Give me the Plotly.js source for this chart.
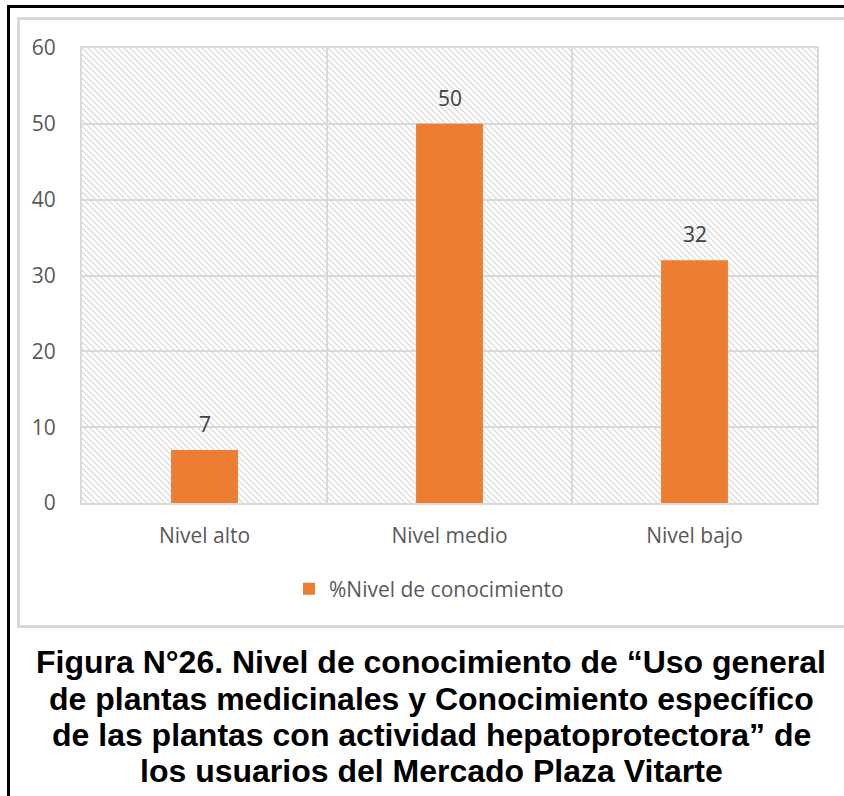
<!DOCTYPE html>
<html>
<head>
<meta charset="utf-8">
<script src="https://cdn.plot.ly/plotly-3.0.1.min.js"></script>
<style>
  html, body { margin: 0; padding: 0; background: #ffffff; }
  #wrap { position: relative; width: 844px; height: 796px; overflow: hidden; }
  #chart { position: absolute; left: 0; top: 0; width: 844px; height: 796px; }
  .frame { position: absolute; pointer-events: none; box-sizing: border-box; }
</style>
</head>
<body>
<div id="wrap">
  <div id="chart"></div>
  <div class="frame" style="left:7px; top:5px; width:900px; height:900px; border-top:3px solid #000; border-left:3px solid #000;"></div>
  <div class="frame" style="left:17px; top:17px; width:900px; height:611px; border:3px solid #d9d9d9;"></div>
</div>
<script>
// ---- data ----
const categories = ['Nivel alto', 'Nivel medio', 'Nivel bajo'];
const values = [7, 50, 32];
const seriesName = '%Nivel de conocimiento';
const yTickValues = [0, 10, 20, 30, 40, 50, 60];
const captionLines = [
  'Figura N°26. Nivel de conocimiento de “Uso general',
  'de plantas medicinales y Conocimiento específico',
  'de las plantas con actividad hepatoprotectora” de',
  'los usuarios del Mercado Plaza Vitarte'
];

// ---- styling ----
const barColor = '#ED7D31';
const gridColor = '#d9d9d9';
const tickColor = '#595959';
const labelColor = '#404040';
const baseFont = 'Open Sans, Lato, sans-serif';

// plot area geometry in pixels (for decorative hatch & caption placement)
const W = 844, H = 796;
const mL = 82, mR = 27, mT = 48, mB = 293;
const plotW = W - mL - mR, plotH = H - mT - mB;

// hatched background (decorative) as an SVG image
const hatchSvg =
  '<svg xmlns="http://www.w3.org/2000/svg" width="' + plotW + '" height="' + plotH + '">' +
  '<defs><pattern id="h" patternUnits="userSpaceOnUse" width="6" height="6">' +
  '<path d="M-1,-1 L7,7 M-1,5 L1,7 M5,-1 L7,1" stroke="#d4d4d4" stroke-width="1.1"/>' +
  '</pattern></defs>' +
  '<rect width="100%" height="100%" fill="#ffffff"/>' +
  '<rect width="100%" height="100%" fill="url(#h)"/></svg>';
const hatchUri = 'data:image/svg+xml;base64,' + btoa(hatchSvg);

const trace = {
  type: 'bar',
  x: categories,
  y: values,
  name: seriesName,
  marker: { color: barColor },
  showlegend: true,
  hoverinfo: 'none'
};

const valueLabels = categories.map((c, i) => ({
  x: c, y: values[i], xref: 'x', yref: 'y',
  text: String(values[i]), showarrow: false,
  yanchor: 'middle', yshift: 26,
  font: { family: baseFont, size: 21, color: labelColor }
}));

const captionY = [662, 699, 735, 771];
const captionCenterX = 431;
const captionAnns = captionLines.map((t, i) => ({
  xref: 'paper', yref: 'paper', x: 0.5, y: 0,
  xanchor: 'center', yanchor: 'middle',
  xshift: captionCenterX - (mL + plotW / 2),
  yshift: -(captionY[i] - (mT + plotH)),
  text: '<b>' + t + '</b>', showarrow: false,
  font: { family: 'Liberation Sans, Arial, sans-serif', size: 32, color: '#000000' }
}));

const layout = {
  width: W, height: H,
  margin: { l: mL, r: mR, t: mT, b: mB, pad: 0 },
  paper_bgcolor: 'rgba(0,0,0,0)',
  plot_bgcolor: 'rgba(0,0,0,0)',
  bargap: 0.727,
  font: { family: baseFont, size: 21, color: tickColor },
  xaxis: {
    type: 'category',
    range: [-0.5, categories.length - 0.5],
    tickson: 'boundaries',
    showgrid: true, gridcolor: gridColor, gridwidth: 2,
    showline: true, linecolor: gridColor, linewidth: 2, mirror: true,
    ticks: 'outside', ticklen: 20, tickcolor: 'rgba(0,0,0,0)',
    ticklabelstandoff: 13,
    tickfont: { family: baseFont, size: 21, color: tickColor },
    fixedrange: true
  },
  yaxis: {
    range: [0, 60],
    tickmode: 'array', tickvals: yTickValues,
    showgrid: true, gridcolor: gridColor, gridwidth: 2,
    zeroline: false,
    showline: true, linecolor: gridColor, linewidth: 2, mirror: true,
    ticks: 'outside', ticklen: 20, tickcolor: 'rgba(0,0,0,0)',
    tickfont: { family: baseFont, size: 21, color: tickColor },
    fixedrange: true
  },
  showlegend: true,
  legend: {
    orientation: 'h',
    x: (429 - mL) / plotW, xanchor: 'center',
    y: -(589 - (mT + plotH)) / plotH, yanchor: 'middle',
    font: { family: baseFont, size: 21, color: tickColor },
    bgcolor: 'rgba(0,0,0,0)'
  },
  images: [{
    source: hatchUri,
    xref: 'paper', yref: 'paper',
    x: 0, y: 1, sizex: 1, sizey: 1,
    xanchor: 'left', yanchor: 'top',
    sizing: 'stretch', layer: 'below'
  }],
  annotations: valueLabels.concat(captionAnns)
};

Plotly.newPlot('chart', [trace], layout, { displayModeBar: false, staticPlot: true });
</script>
</body>
</html>
